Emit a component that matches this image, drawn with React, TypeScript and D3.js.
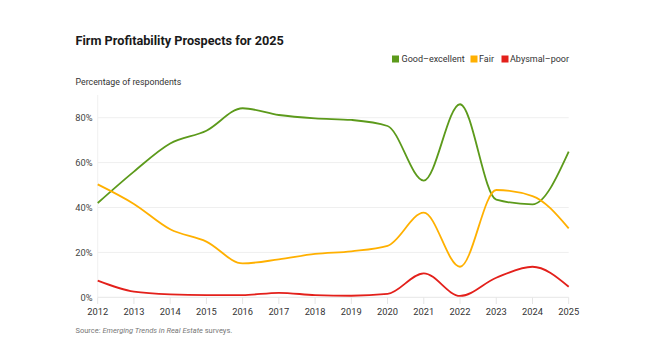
import React from "react";
import * as d3 from "d3";

const years = [2012, 2013, 2014, 2015, 2016, 2017, 2018, 2019, 2020, 2021, 2022, 2023, 2024, 2025];
const goodExcellent = [42, 56, 68.5, 74.2, 84.2, 81.2, 79.7, 79, 76.3, 52, 86, 43.5, 41.4, 64.9];
const fair = [50.3, 41.6, 30.3, 24.8, 15.1, 16.9, 19.3, 20.5, 22.9, 37.7, 13.6, 47.8, 45.1, 30.7];
const abysmalPoor = [7.4, 2.5, 1.3, 1.0, 1.0, 2.0, 1.0, 0.7, 1.5, 10.7, 0.6, 8.7, 13.6, 4.7];
const yTicks = [0, 20, 40, 60, 80];

const seriesList = [
  { name: "Good–excellent", values: goodExcellent, color: "#5c9a1b" },
  { name: "Fair", values: fair, color: "#ffb000" },
  { name: "Abysmal–poor", values: abysmalPoor, color: "#e3201b" },
];

export default function App() {
  const W = 650, H = 355;
  const x = d3.scaleLinear().domain([2012, 2025]).range([97.7, 568.7]);
  const y = d3.scaleLinear().domain([0, 80]).range([297.3, 117.7]);
  const line = d3
    .line<number>()
    .x((_, i) => x(years[i]))
    .y((d) => y(d))
    .curve(d3.curveMonotoneX);
  const font = "Roboto, 'Noto Sans', sans-serif";
  const legendItems = [
    { sq: 392, tx: 401.5 },
    { sq: 470.5, tx: 479 },
    { sq: 501.5, tx: 510 },
  ];
  return (
    <svg width={W} height={H} style={{ position: "absolute", left: 0, top: 0, background: "#fff" }} fontFamily={font}>
      <text x={75.5} y={45} fontSize={12.7} fontWeight={700} fill="#1a1a1a">
        Firm Profitability Prospects for 2025
      </text>
      {seriesList.map((s, i) => (
        <g key={s.name}>
          <rect x={legendItems[i].sq} y={55.5} width={7} height={7} fill={s.color} />
          <text x={legendItems[i].tx} y={62} fontSize={9} fill="#333">
            {s.name}
          </text>
        </g>
      ))}
      <text x={75.5} y={85} fontSize={8.8} fill="#333">
        Percentage of respondents
      </text>
      <line x1={x(2012)} x2={x(2012)} y1={95} y2={297.3} stroke="#f0f0f0" />
      {yTicks.map((t) => (
        <g key={t}>
          <line x1={x(2012)} x2={x(2025)} y1={y(t)} y2={y(t)} stroke={t === 0 ? "#e6e6e6" : "#efefef"} />
          <text x={92.5} y={y(t) + 3.3} fontSize={9.3} textAnchor="end" fill="#444">
            {t}%
          </text>
        </g>
      ))}
      {years.map((yr) => (
        <g key={yr}>
          <line x1={x(yr)} x2={x(yr)} y1={297.3} y2={304} stroke="#e6e6e6" />
          <text x={x(yr)} y={315} fontSize={9.3} textAnchor="middle" fill="#333">
            {yr}
          </text>
        </g>
      ))}
      {seriesList.map((s) => (
        <path key={s.name} d={line(s.values) || ""} fill="none" stroke={s.color} strokeWidth={1.8} />
      ))}
      <text x={75.5} y={333} fontSize={7.5} fill="#777">
        Source: <tspan fontStyle="italic">Emerging Trends in Real Estate</tspan> surveys.
      </text>
    </svg>
  );
}
